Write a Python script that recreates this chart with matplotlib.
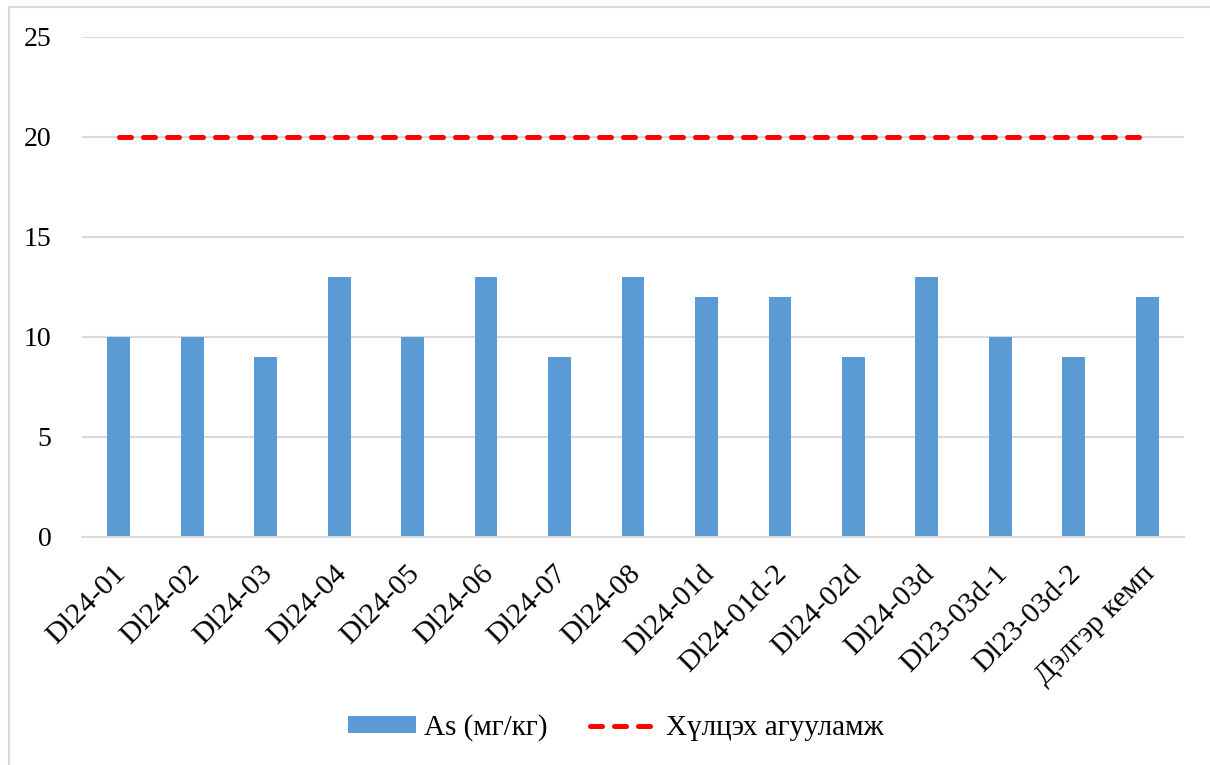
import matplotlib.pyplot as plt
import matplotlib.transforms as mtransforms
import numpy as np
from matplotlib.patches import Rectangle

plt.rcParams['font.family'] = ['Liberation Serif', 'DejaVu Serif']

# Datos
categorias = ['Dl24-01', 'Dl24-02', 'Dl24-03', 'Dl24-04', 'Dl24-05', 'Dl24-06',
              'Dl24-07', 'Dl24-08', 'Dl24-01d', 'Dl24-01d-2', 'Dl24-02d', 'Dl24-03d',
              'Dl23-03d-1', 'Dl23-03d-2', 'Дэлгэр кемп']
valores_as = [10, 10, 9, 13, 10, 13, 9, 13, 12, 12, 9, 13, 10, 9, 12]
limite = [20] * len(categorias)

fig = plt.figure(figsize=(12.1, 7.65), dpi=100)
ax = fig.add_axes([82 / 1210, 1 - 537 / 765, (1184 - 82) / 1210, 500 / 765])

# Marco del gráfico
fig.patches.append(Rectangle((9 / 1210, -0.1), 1.2, 1 - 7 / 765 + 0.1,
                             transform=fig.transFigure, fill=False,
                             edgecolor='#d9d9d9', linewidth=1.5))

x = np.arange(len(categorias))
barras = ax.bar(x, valores_as, width=0.31, color='#5b9bd5', label='As (мг/кг)', zorder=2)
linea, = ax.plot(x, limite, color='#ff0000', linestyle=(0, (2.4, 2.4)), linewidth=3.6,
                 dash_capstyle='round', label='Хүлцэх агууламж', zorder=3)

ax.set_xlim(-0.5, len(categorias) - 0.5)
ax.set_ylim(0, 25)
ax.set_yticks([0, 5, 10, 15, 20, 25])
ax.grid(axis='y', color='#d9d9d9', linewidth=1.5, zorder=0)
ax.set_axisbelow(True)

for lado in ['top', 'right', 'left']:
    ax.spines[lado].set_visible(False)
ax.spines['bottom'].set_color('#d9d9d9')
ax.spines['bottom'].set_linewidth(1.5)

ax.tick_params(axis='y', length=0, labelsize=20, pad=22)
ax.tick_params(axis='x', length=0, labelsize=21.5, pad=17)
ax.set_xticks(x)
ax.set_xticklabels(categorias, rotation=45, ha='right', rotation_mode='anchor')
desplazamiento = mtransforms.ScaledTranslation(-0.06, 0, fig.dpi_scale_trans)
for etiqueta in ax.get_xticklabels():
    etiqueta.set_transform(etiqueta.get_transform() + desplazamiento)

fig.legend([barras, linea], ['As (мг/кг)', 'Хүлцэх агууламж'],
           loc='center', bbox_to_anchor=(0.509, 1 - 728 / 765), ncol=2, frameon=False,
           fontsize=21, handlelength=2.33, handleheight=0.5, columnspacing=1.44, handletextpad=0.27)

plt.savefig('out.png', dpi=100)
plt.close()
